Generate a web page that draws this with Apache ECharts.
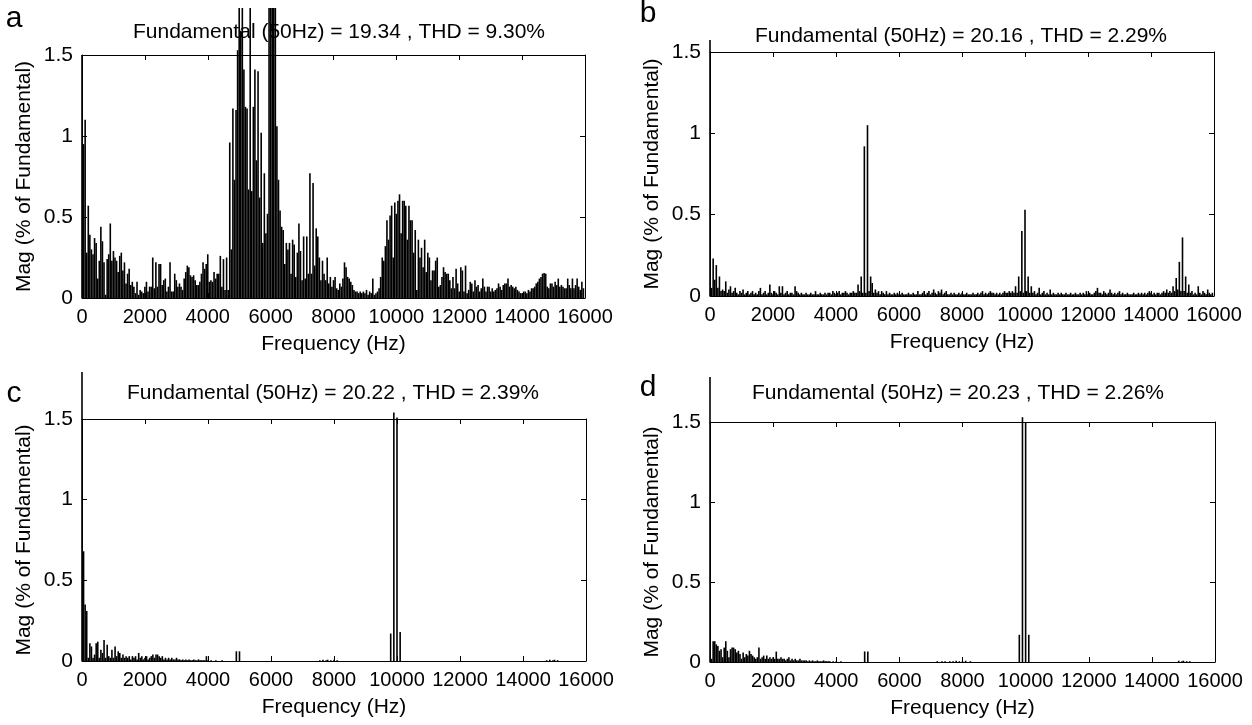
<!DOCTYPE html>
<html>
<head>
<meta charset="utf-8">
<title>FFT spectra</title>
<script src="https://cdn.jsdelivr.net/npm/echarts@6/dist/echarts.min.js"></script>
<style>
  html, body { margin: 0; padding: 0; background: #fff; }
  #chart { width: 1252px; height: 725px; }
</style>
</head>
<body>
<div id="chart"></div>
<script>
// FFT bin spacing and axis ticks
const binHz = 50
const xTicks = [0, 2000, 4000, 6000, 8000, 10000, 12000, 14000, 16000]
const yTicks = [0, 0.5, 1, 1.5]

const panelLetters = ['a', 'b', 'c', 'd']
const panelTitles = [
  'Fundamental (50Hz) = 19.34 , THD = 9.30%',
  'Fundamental (50Hz) = 20.16 , THD = 2.29%',
  'Fundamental (50Hz) = 20.22 , THD = 2.39%',
  'Fundamental (50Hz) = 20.23 , THD = 2.26%'
]

// magnitudes (% of fundamental), one value per 50 Hz bin, 0 .. 15950 Hz
const magA = [
  1.5, 0.95, 1.1, 0.28, 0.57, 0.39, 0.30, 0.27, 0.37, 0.34, 0.12, 0.23, 0.44, 0.35, 0.22, 0.02, 0.24, 0.27, 0.46, 0.23,
  0.29, 0.25, 0.23, 0.16, 0.26, 0.28, 0.17, 0.22, 0.09, 0.15, 0.18, 0.08, 0.10, 0.07, 0.03, 0.10, 0.02, 0.05, 0.04, 0.03,
  0.07, 0.10, 0.04, 0.07, 0.07, 0.25, 0.06, 0.22, 0.07, 0.21, 0.21, 0.08, 0.11, 0.12, 0.04, 0.07, 0.22, 0.04, 0.04, 0.15,
  0.11, 0.07, 0.09, 0.07, 0.05, 0.12, 0.16, 0.20, 0.19, 0.14, 0.13, 0.14, 0.11, 0.08, 0.08, 0.10, 0.15, 0.22, 0.18, 0.21,
  0.27, 0.10, 0.11, 0.10, 0.16, 0.12, 0.15, 0.15, 0.26, 0.07, 0.24, 0.05, 0.25, 0.05, 0.96, 0.30, 1.17, 0.73, 1.16, 1.53,
  1.8, 1.65, 1.8, 1.41, 1.18, 1.17, 0.67, 1.8, 0.66, 1.18, 1.41, 0.85, 1.40, 0.62, 1.02, 0.34, 0.77, 0.40, 0.52, 1.8,
  1.8, 1.8, 1.8, 1.8, 1.06, 0.73, 0.54, 0.44, 0.42, 0.21, 0.34, 0.30, 0.34, 0.15, 0.36, 0.33, 0.13, 0.28, 0.46, 0.29,
  0.11, 0.38, 0.12, 0.38, 0.15, 0.77, 0.15, 0.71, 0.20, 0.43, 0.38, 0.25, 0.11, 0.23, 0.15, 0.11, 0.25, 0.09, 0.13, 0.07,
  0.11, 0.13, 0.06, 0.05, 0.09, 0.07, 0.12, 0.22, 0.19, 0.13, 0.12, 0.10, 0.08, 0.05, 0.04, 0.04, 0.03, 0.04, 0.03, 0.04,
  0.03, 0.05, 0.02, 0.04, 0.03, 0.12, 0.02, 0.03, 0.04, 0.06, 0.13, 0.25, 0.23, 0.32, 0.48, 0.36, 0.51, 0.57, 0.25, 0.59,
  0.52, 0.60, 0.64, 0.40, 0.60, 0.60, 0.57, 0.36, 0.57, 0.48, 0.48, 0.28, 0.42, 0.05, 0.36, 0.25, 0.31, 0.19, 0.36, 0.16,
  0.28, 0.25, 0.11, 0.17, 0.17, 0.23, 0.25, 0.07, 0.08, 0.13, 0.19, 0.16, 0.15, 0.15, 0.11, 0.06, 0.13, 0.06, 0.18, 0.09,
  0.04, 0.19, 0.17, 0.04, 0.20, 0.03, 0.05, 0.10, 0.09, 0.04, 0.11, 0.07, 0.08, 0.04, 0.06, 0.12, 0.07, 0.04, 0.07, 0.07,
  0.04, 0.06, 0.04, 0.05, 0.06, 0.09, 0.07, 0.05, 0.08, 0.09, 0.09, 0.12, 0.07, 0.08, 0.07, 0.06, 0.07, 0.05, 0.04, 0.03,
  0.03, 0.04, 0.04, 0.03, 0.05, 0.04, 0.06, 0.06, 0.07, 0.09, 0.10, 0.12, 0.13, 0.15, 0.155, 0.15, 0.07, 0.06, 0.09, 0.09,
  0.07, 0.10, 0.08, 0.12, 0.07, 0.08, 0.07, 0.06, 0.06, 0.12, 0.08, 0.06, 0.12, 0.06, 0.08, 0.12, 0.07, 0.05, 0.10, 0.06
]

const magB = [
  100, 0.05, 0.23, 0.10, 0.19, 0.05, 0.12, 0.03, 0.04, 0.03, 0.09, 0.02, 0.04, 0.06, 0.02, 0.03, 0.05, 0.02, 0.01, 0.03,
  0.02, 0.04, 0.01, 0.02, 0.03, 0.01, 0.02, 0.03, 0.01, 0.02, 0.01, 0.03, 0.05, 0.01, 0.02, 0.03, 0.01, 0.02, 0.07, 0.02,
  0.01, 0.03, 0.02, 0.01, 0.06, 0.02, 0.06, 0.01, 0.02, 0.03, 0.01, 0.02, 0.02, 0.01, 0.06, 0.03, 0.02, 0.01, 0.02, 0.01,
  0.01, 0.02, 0.01, 0.01, 0.02, 0.01, 0.01, 0.03, 0.01, 0.01, 0.02, 0.01, 0.01, 0.02, 0.01, 0.02, 0.02, 0.01, 0.03, 0.02,
  0.01, 0.02, 0.03, 0.01, 0.02, 0.02, 0.03, 0.02, 0.01, 0.02, 0.02, 0.03, 0.02, 0.02, 0.07, 0.03, 0.12, 0.02, 0.92, 0.02,
  1.05, 0.03, 0.12, 0.08, 0.02, 0.04, 0.02, 0.03, 0.01, 0.03, 0.02, 0.01, 0.03, 0.01, 0.02, 0.01, 0.01, 0.02, 0.01, 0.02,
  0.01, 0.01, 0.02, 0.01, 0.01, 0.01, 0.02, 0.01, 0.01, 0.02, 0.01, 0.01, 0.03, 0.01, 0.01, 0.02, 0.03, 0.01, 0.02, 0.03,
  0.01, 0.02, 0.04, 0.02, 0.01, 0.03, 0.02, 0.04, 0.01, 0.02, 0.03, 0.01, 0.01, 0.02, 0.01, 0.02, 0.01, 0.01, 0.02, 0.01,
  0.02, 0.01, 0.01, 0.02, 0.01, 0.01, 0.01, 0.02, 0.01, 0.01, 0.02, 0.01, 0.02, 0.03, 0.01, 0.02, 0.01, 0.02, 0.03, 0.02,
  0.02, 0.01, 0.02, 0.01, 0.02, 0.01, 0.02, 0.03, 0.02, 0.02, 0.03, 0.02, 0.03, 0.02, 0.06, 0.02, 0.12, 0.03, 0.40, 0.02,
  0.53, 0.03, 0.12, 0.02, 0.06, 0.02, 0.03, 0.01, 0.02, 0.05, 0.01, 0.02, 0.03, 0.01, 0.02, 0.01, 0.04, 0.01, 0.02, 0.01,
  0.01, 0.02, 0.01, 0.02, 0.01, 0.01, 0.02, 0.01, 0.01, 0.02, 0.01, 0.01, 0.02, 0.01, 0.01, 0.02, 0.01, 0.02, 0.01, 0.03,
  0.01, 0.02, 0.01, 0.01, 0.02, 0.03, 0.05, 0.02, 0.02, 0.01, 0.03, 0.02, 0.01, 0.02, 0.04, 0.02, 0.01, 0.02, 0.01, 0.02,
  0.03, 0.01, 0.02, 0.01, 0.01, 0.02, 0.01, 0.01, 0.01, 0.02, 0.01, 0.01, 0.02, 0.01, 0.02, 0.01, 0.02, 0.01, 0.02, 0.03,
  0.02, 0.01, 0.02, 0.01, 0.02, 0.02, 0.01, 0.02, 0.03, 0.02, 0.04, 0.02, 0.03, 0.02, 0.06, 0.03, 0.11, 0.04, 0.21, 0.03,
  0.36, 0.03, 0.12, 0.02, 0.07, 0.02, 0.03, 0.01, 0.02, 0.01, 0.06, 0.02, 0.01, 0.03, 0.02, 0.01, 0.04, 0.02, 0.01, 0.02
]

const magC = [
  100, 0.68, 0.35, 0.31, 0.02, 0.11, 0.09, 0.02, 0.04, 0.11, 0.12, 0.02, 0.07, 0.05, 0.13, 0.02, 0.10, 0.03, 0.02, 0.07,
  0.02, 0.09, 0.03, 0.06, 0.05, 0.02, 0.04, 0.02, 0.03, 0.02, 0.03, 0.01, 0.03, 0.02, 0.03, 0.01, 0.05, 0.02, 0.03, 0.01,
  0.02, 0.03, 0.01, 0.02, 0.03, 0.04, 0.02, 0.04, 0.04, 0.03, 0.02, 0.03, 0.01, 0.02, 0.01, 0.02, 0.01, 0.02, 0.01, 0.01,
  0.02, 0.01, 0.01, 0.005, 0.01, 0.005, 0.01, 0.005, 0.01, 0.005, 0.005, 0.01, 0.005, 0.005, 0.01, 0.005, 0.005, 0.005, 0.005, 0.03,
  0.005, 0, 0.005, 0, 0, 0.005, 0, 0, 0, 0.005, 0, 0, 0, 0, 0, 0, 0, 0, 0.06, 0,
  0.06, 0, 0, 0, 0, 0, 0, 0, 0, 0, 0, 0, 0, 0, 0, 0, 0, 0, 0, 0,
  0, 0, 0, 0, 0, 0, 0, 0, 0, 0, 0, 0, 0, 0, 0, 0, 0, 0, 0, 0,
  0, 0, 0, 0, 0, 0, 0, 0, 0, 0, 0, 0.005, 0, 0.008, 0, 0.005, 0.008, 0, 0.005, 0,
  0.008, 0, 0.005, 0, 0, 0, 0, 0, 0, 0, 0, 0, 0, 0, 0, 0, 0, 0, 0, 0,
  0, 0, 0, 0, 0, 0, 0, 0, 0, 0, 0, 0, 0, 0, 0, 0, 0.17, 0, 1.54, 0,
  1.51, 0, 0.18, 0, 0, 0, 0, 0, 0, 0, 0, 0, 0, 0, 0, 0, 0, 0, 0, 0,
  0, 0, 0, 0, 0, 0, 0, 0, 0, 0, 0, 0, 0, 0, 0, 0, 0, 0, 0, 0,
  0, 0, 0, 0, 0, 0, 0, 0, 0, 0, 0, 0, 0, 0, 0, 0, 0, 0, 0, 0,
  0, 0, 0, 0, 0, 0, 0, 0, 0, 0, 0, 0, 0, 0, 0, 0, 0, 0, 0, 0,
  0, 0, 0, 0, 0, 0, 0, 0, 0, 0, 0, 0, 0, 0, 0, 0.005, 0, 0.008, 0, 0.005,
  0.008, 0, 0.005, 0, 0, 0, 0, 0, 0, 0, 0, 0, 0, 0, 0, 0, 0, 0, 0, 0
]

const magD = [
  100, 0.02, 0.13, 0.13, 0.11, 0.10, 0.07, 0.08, 0.03, 0.09, 0.13, 0.07, 0.03, 0.08, 0.09, 0.09, 0.08, 0.06, 0.07, 0.05,
  0.02, 0.06, 0.03, 0.05, 0.04, 0.07, 0.05, 0.04, 0.03, 0.02, 0.03, 0.09, 0.02, 0.03, 0.04, 0.02, 0.04, 0.02, 0.03, 0.02,
  0.03, 0.02, 0.065, 0.02, 0.02, 0.03, 0.02, 0.02, 0.01, 0.02, 0.03, 0.01, 0.02, 0.01, 0.02, 0.01, 0.01, 0.02, 0.01, 0.01,
  0.01, 0.01, 0.005, 0.01, 0.005, 0.01, 0.005, 0.005, 0.01, 0.005, 0.005, 0.005, 0.01, 0.005, 0.005, 0.005, 0.005, 0, 0.005, 0,
  0.005, 0, 0, 0.005, 0, 0, 0, 0, 0, 0, 0, 0, 0, 0, 0, 0, 0, 0, 0.066, 0,
  0.066, 0, 0, 0, 0, 0, 0, 0, 0, 0, 0, 0, 0, 0, 0, 0, 0, 0, 0, 0,
  0, 0, 0, 0, 0, 0, 0, 0, 0, 0, 0, 0, 0, 0, 0, 0, 0, 0, 0, 0,
  0, 0, 0, 0, 0.005, 0, 0, 0.005, 0, 0.005, 0, 0, 0.005, 0, 0.005, 0, 0.008, 0, 0.005, 0,
  0.005, 0, 0.008, 0, 0, 0.005, 0, 0, 0, 0, 0, 0, 0, 0, 0, 0, 0, 0, 0, 0,
  0, 0, 0, 0, 0, 0, 0, 0, 0, 0, 0, 0, 0, 0, 0, 0, 0.17, 0, 1.53, 0,
  1.50, 0, 0.17, 0, 0, 0, 0, 0, 0, 0, 0, 0, 0, 0, 0, 0, 0, 0, 0, 0,
  0, 0, 0, 0, 0, 0, 0, 0, 0, 0, 0, 0, 0, 0, 0, 0, 0, 0, 0, 0,
  0, 0, 0, 0, 0, 0, 0, 0, 0, 0, 0, 0, 0, 0, 0, 0, 0, 0, 0, 0,
  0, 0, 0, 0, 0, 0, 0, 0, 0, 0, 0, 0, 0, 0, 0, 0, 0, 0, 0, 0,
  0, 0, 0, 0, 0, 0, 0, 0, 0, 0, 0, 0, 0, 0, 0, 0, 0, 0.008, 0, 0.005,
  0.008, 0, 0.005, 0, 0.005, 0, 0, 0, 0, 0, 0, 0, 0, 0, 0, 0, 0, 0, 0, 0
]

const mags = [magA, magB, magC, magD]

// plot box of each panel in px; "over" is how far bars may rise above the box
const boxes = [
  { left: 82, right: 585, top: 55, bottom: 298, over: 47 },
  { left: 710, right: 1214, top: 52, bottom: 296, over: 12 },
  { left: 82, right: 586, top: 419, bottom: 661, over: 47 },
  { left: 710, right: 1215, top: 422, bottom: 662, over: 45 }
]
const titlePos = [[339, 32], [961, 36], [333, 393], [958, 393]]
const letterPos = [[14, 19], [648, 14], [14, 394], [648, 388]]

const FONT = '"Liberation Sans", Arial, Helvetica, sans-serif'
const black = { color: '#000', width: 1 }

const chart = echarts.init(document.getElementById('chart'), null, { renderer: 'canvas' })

const grid = []
const xAxis = []
const yAxis = []
const series = []
const graphic = []

boxes.forEach((b, i) => {
  const h = b.bottom - b.top
  const w = b.right - b.left
  grid.push({ left: b.left, top: b.top, width: w, height: h })
  grid.push({ left: b.left, top: b.top - b.over, width: w, height: h + b.over })
  const gBox = 2 * i
  const gBar = 2 * i + 1
  const xMax = xTicks[xTicks.length - 1]
  const xStep = xTicks[1] - xTicks[0]
  const yMax = yTicks[yTicks.length - 1]
  const yStep = yTicks[1] - yTicks[0]

  // x axes: bottom (labelled), top (ticks only), hidden one for the bars
  xAxis.push({
    gridIndex: gBox, type: 'value', position: 'bottom', min: 0, max: xMax, interval: xStep,
    axisLine: { onZero: false, lineStyle: black },
    axisTick: { inside: true, length: 5, lineStyle: black },
    axisLabel: { color: '#000', fontSize: 20, fontFamily: FONT, margin: 9, formatter: v => String(v) },
    splitLine: { show: false },
    name: 'Frequency (Hz)', nameLocation: 'middle', nameGap: 36,
    nameTextStyle: { color: '#000', fontSize: 21, fontFamily: FONT }
  })
  xAxis.push({
    gridIndex: gBox, type: 'value', position: 'top', min: 0, max: xMax, interval: xStep,
    axisLine: { onZero: false, lineStyle: black },
    axisTick: { inside: true, length: 5, lineStyle: black },
    axisLabel: { show: false },
    splitLine: { show: false }
  })
  xAxis.push({ gridIndex: gBar, type: 'value', min: 0, max: xMax, show: false })

  yAxis.push({
    gridIndex: gBox, type: 'value', position: 'left', min: 0, max: yMax, interval: yStep,
    axisLine: { show: true, onZero: false, lineStyle: black },
    axisTick: { show: true, inside: true, length: 5, lineStyle: black },
    axisLabel: { color: '#000', fontSize: 21, fontFamily: FONT, margin: 9, formatter: v => String(v) },
    splitLine: { show: false },
    name: 'Mag (% of Fundamental)', nameLocation: 'middle', nameRotate: 90, nameGap: 47,
    nameTextStyle: { color: '#000', fontSize: 21, fontFamily: FONT }
  })
  yAxis.push({
    gridIndex: gBox, type: 'value', position: 'right', min: 0, max: yMax, interval: yStep,
    axisLine: { show: true, onZero: false, lineStyle: black },
    axisTick: { show: true, inside: true, length: 5, lineStyle: black },
    axisLabel: { show: false },
    splitLine: { show: false }
  })
  yAxis.push({ gridIndex: gBar, type: 'value', min: 0, max: yMax * (h + b.over) / h, show: false })

  series.push({
    type: 'bar',
    name: panelLetters[i],
    xAxisIndex: 3 * i + 2,
    yAxisIndex: 3 * i + 2,
    data: mags[i].map((m, k) => [k * binHz, m]),
    barWidth: 1.6,
    itemStyle: { color: '#000' },
    clip: true,
    silent: true
  })

  graphic.push({
    type: 'text', x: titlePos[i][0], y: titlePos[i][1],
    style: { text: panelTitles[i], font: '21px ' + FONT, fill: '#000', align: 'center', verticalAlign: 'middle' }
  })
  graphic.push({
    type: 'text', x: letterPos[i][0], y: letterPos[i][1],
    style: { text: panelLetters[i], font: '30px ' + FONT, fill: '#000', align: 'center', verticalAlign: 'middle' }
  })
})

chart.setOption({
  animation: false,
  backgroundColor: '#fff',
  grid,
  xAxis,
  yAxis,
  series,
  graphic
})
</script>
</body>
</html>
